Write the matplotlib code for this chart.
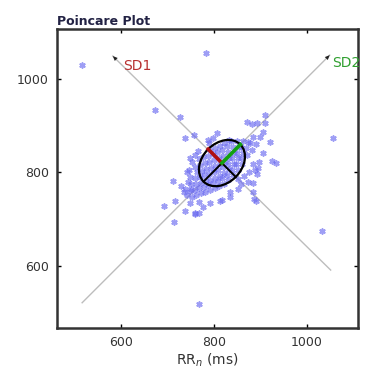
import matplotlib
matplotlib.use("Agg")
import matplotlib.pyplot as plt
from matplotlib.patches import Ellipse
import numpy as np

# ---- data ----
outer_x = [516, 782, 673, 726, 737, 757, 1056, 1032, 767, 692, 714, 737, 759, 767,
           776, 791, 813, 890, 716, 748, 767, 711, 760, 735, 750, 909, 871, 882,
           893, 909, 905, 920, 905, 924, 934, 896, 883, 883, 883, 887, 892, 835,
           852, 817, 834, 728, 742]
outer_y = [1030, 1056, 934, 919, 874, 880, 874, 675, 519, 728, 694, 718, 713, 713,
           726, 735, 739, 739, 739, 735, 737, 782, 711, 758, 764, 923, 908, 904,
           906, 906, 887, 865, 842, 825, 821, 823, 817, 778, 759, 742, 797, 759,
           765, 741, 748, 770, 800]

core_x = [741, 738, 743,
          752, 748, 751, 749,
          761, 758, 762, 759, 763, 760,
          771, 768, 772, 769, 773, 770, 767,
          781, 778, 782, 779, 783, 780, 777,
          791, 788, 792, 789, 793, 790, 787, 792,
          801, 798, 802, 799, 803, 800, 797, 802,
          811, 808, 812, 809, 813, 810, 807, 812,
          821, 818, 822, 819, 823, 820, 817, 822,
          831, 828, 832, 829, 833, 830, 827, 832,
          841, 838, 842, 839, 843, 840, 837,
          851, 848, 852, 849, 853, 850,
          861, 858, 862, 859, 863,
          871, 868, 873,
          881, 878, 883,
          891, 898,
          745, 752, 758, 765, 748, 790, 798, 806, 786,
          852, 864, 876, 888, 858, 872, 895]
core_y = [752, 765, 780,
          748, 760, 775, 790,
          752, 763, 775, 788, 800, 812,
          755, 766, 778, 790, 803, 816, 828,
          758, 769, 781, 794, 807, 820, 833,
          762, 772, 784, 797, 810, 823, 836, 848,
          766, 777, 789, 801, 813, 826, 839, 852,
          770, 781, 793, 806, 818, 831, 844, 856,
          776, 787, 799, 811, 823, 836, 849, 862,
          784, 795, 807, 819, 831, 843, 856, 870,
          795, 806, 818, 830, 842, 855, 868,
          806, 818, 830, 842, 855, 868,
          818, 830, 842, 855, 868,
          838, 852, 866,
          848, 862, 876,
          860, 875,
          805, 822, 838, 846, 830, 862, 874, 884, 870,
          785, 792, 800, 806, 775, 780, 810]

center = (817, 820)
sd1 = 42
sd2 = 56
sd2_axis = [(516, 521), (1049, 1051)]
sd1_axis = [(1051, 591), (582, 1049)]
xticks = [600, 800, 1000]
yticks = [600, 800, 1000]

# ---- figure ----
fig = plt.figure(figsize=(3.68, 3.79), dpi=100)
ax = fig.add_axes([0.155, 0.1346, 0.818, 0.789])

ax.set_xlim(462, 1110)
ax.set_ylim(467, 1107)

for (p0, p1) in [sd2_axis, sd1_axis]:
    ax.plot([p0[0], p1[0]], [p0[1], p1[1]], color="#bdbdbd", lw=1.0, zorder=1)
    d = np.array(p1) - np.array(p0)
    d = d / np.hypot(*d)
    tail = np.array(p1) - d * 14
    ax.annotate("", xy=p1, xytext=tail,
                arrowprops=dict(arrowstyle="-|>,head_length=0.35,head_width=0.15",
                                color="#222222", lw=0.0, shrinkA=0, shrinkB=0), zorder=2)

allx = outer_x + core_x
ally = outer_y + core_y
ax.scatter(allx, ally, marker=(6, 2, 0), s=13, color="#6a6af0", linewidths=1.2,
           alpha=0.65, zorder=3)

# ellipse and SD lines
ell = Ellipse(center, width=2 * sd2, height=2 * sd1, angle=45, fill=False,
              edgecolor="black", lw=1.6, zorder=5)
ax.add_patch(ell)
u2 = np.array([1, 1]) / np.sqrt(2)
u1 = np.array([-1, 1]) / np.sqrt(2)
c = np.array(center)
ax.plot([c[0] - sd2 * u2[0], c[0]], [c[1] - sd2 * u2[1], c[1]], color="black", lw=1.4, zorder=5)
ax.plot([c[0] - sd1 * u1[0], c[0]], [c[1] - sd1 * u1[1], c[1]], color="black", lw=1.4, zorder=5)
ax.plot([c[0], c[0] + sd1 * u1[0]], [c[1], c[1] + sd1 * u1[1]], color="#b01010", lw=2.6, zorder=6)
ax.plot([c[0], c[0] + sd2 * u2[0]], [c[1], c[1] + sd2 * u2[1]], color="#12a012", lw=2.6, zorder=6)

ax.text(605, 1027, "SD1", color="#b83030", fontsize=10, va="center", ha="left", zorder=7)
ax.text(1054, 1034, "SD2", color="#30a030", fontsize=10, va="center", ha="left",
        clip_on=False, zorder=7)

ax.set_xticks(xticks)
ax.set_yticks(yticks)
ax.tick_params(direction="in", length=3, width=1, top=True, right=True,
               labelsize=9, labelcolor="#333333", pad=6)
for s in ax.spines.values():
    s.set_linewidth(1.8)
    s.set_color("#333333")

ax.set_xlabel("RR$_n$ (ms)", fontsize=10, color="#333333", labelpad=2)
ax.set_title("Poincare Plot", fontsize=9, fontweight="bold", loc="left",
             color="#222244", pad=3)

fig.savefig("out.png", dpi=100)
